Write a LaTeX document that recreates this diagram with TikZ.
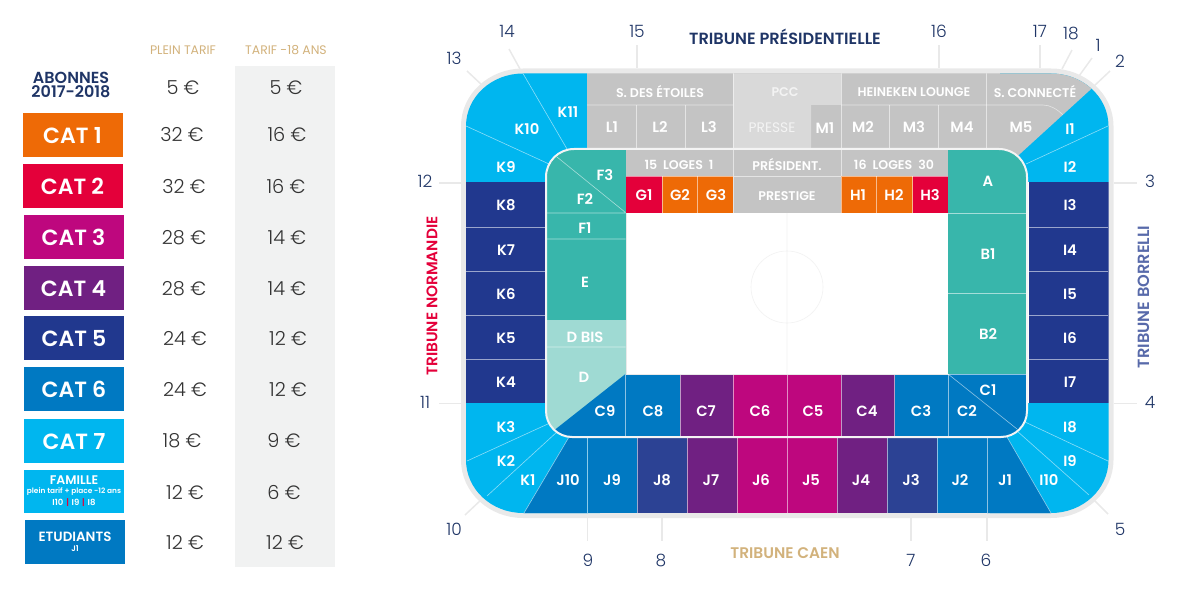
\documentclass[tikz,border=0pt]{standalone}
\usepackage{fontspec}
\setmainfont{Poppins}[BoldFont={Poppins SemiBold}]
\newfontfamily\lightfont{Poppins Light}
\usepackage{tikz}
\definecolor{catorange}{HTML}{EE6A06}
\definecolor{catred}{HTML}{E4003A}
\definecolor{catmagenta}{HTML}{BE077E}
\definecolor{catpurple}{HTML}{702082}
\definecolor{catnavy}{HTML}{21388E}
\definecolor{catblue}{HTML}{0079C2}
\definecolor{catcyan}{HTML}{00B6EF}
\definecolor{zoneteal}{HTML}{38B6AB}
\definecolor{zonepale}{HTML}{9FDAD3}
\definecolor{zonegray}{HTML}{C4C4C4}
\definecolor{zonelight}{HTML}{D9D9D9}
\definecolor{bandgray}{HTML}{E9E9E9}
\definecolor{pricegray}{HTML}{F1F2F2}
\definecolor{inknavy}{HTML}{1F3566}
\definecolor{inktan}{HTML}{D2B27C}
\tikzset{
    seatlab/.style={text=white, font=\bfseries\fontsize{14.8}{14.8}\selectfont},
    roomlab/.style={text=white, font=\bfseries\fontsize{12.6}{12.6}\selectfont},
    catbox/.style={text=white, font=\bfseries\fontsize{22}{22}\selectfont, minimum width=100, minimum height=43.5, inner sep=0, text height=17},
    price/.style={text=black!80, font=\lightfont\fontsize{19.3}{19.3}\selectfont, yshift=-1},
    headlab/.style={text=inktan, font=\fontsize{12.4}{12.4}\selectfont},
    tribune/.style={font=\bfseries\fontsize{16.2}{16.2}\selectfont},
    ticknum/.style={text=inknavy, font=\lightfont\fontsize{17}{17}\selectfont},
    tickline/.style={draw=bandgray, line width=1.5},
    seatline/.style={draw=white, draw opacity=.55, line width=.6},
}
\newcommand{\outerpath}{(466,126) arc (180:270:57 and 52.5) -- (1051,73.5) arc (270:360:57.5 and 52.5) -- (1108.5,460) arc (0:90:57.5 and 53) -- (523,513) arc (90:180:57 and 53) -- cycle}
\newcommand{\bowlpath}{(546,177) arc (180:270:28) -- (999,149) arc (270:360:28) -- (1027,411) arc (0:90:26) -- (572,437) arc (90:180:26) -- cycle}
\begin{document}
\begin{tikzpicture}[x=1pt,y=1pt,yscale=-1]
    \useasboundingbox (0,0) rectangle (1200,591);
    % price list
    \fill[pricegray] (235,66) rectangle (335,567);
    \node[headlab] (headplein) at (183,50) {PLEIN TARIF};
    \node[headlab] (headmoins) at (286,50) {TARIF -18 ANS};
    \node[text=inknavy, font=\bfseries\fontsize{16}{14.5}\selectfont, align=center] (abonnes) at (71,85) {ABONNES\\2017-2018};
    \foreach \n/\col/\x/\y in {1/catorange/72.5/135.2, 2/catred/72.5/186.2, 3/catmagenta/73.5/237, 4/catpurple/73.5/288, 5/catnavy/74/338, 6/catblue/74/389, 7/catcyan/74/441}
        \node[catbox, fill=\col] (cat\n) at (\x,\y) {CAT \n};
    \node[catbox, fill=catcyan] (famille) at (74,491.7) {};
    \node[text=white, inner sep=0, font=\bfseries\fontsize{12.5}{12.5}\selectfont] (famtitle) at (74,480.5) {FAMILLE};
    \node[text=white, inner sep=0, font=\bfseries\fontsize{7.4}{7.4}\selectfont] (famsub) at (74,491.5) {plein tarif + place -12 ans};
    \node[text=white, inner sep=0, font=\bfseries\fontsize{8.5}{8.5}\selectfont] (famseats) at (74,503) {I10\,\,\textcolor{catred}{|}\,\,I9\,\,\textcolor{catred}{|}\,\,I8};
    \node[catbox, fill=catblue] (etudiants) at (74.5,542.2) {};
    \node[text=white, font=\bfseries\fontsize{13.4}{13.4}\selectfont] (etutitle) at (75,537) {ETUDIANTS};
    \node[text=white, font=\bfseries\fontsize{8}{8}\selectfont] (etuseat) at (75,549) {J1};
    \foreach \n/\a/\xa/\b/\xb/\y in {0/5/183/5/286/87, 1/32/182/16/287/134, 2/32/184/16/286/186, 3/28/184/14/287/237, 4/28/184/14/287/288, 5/24/185/12/288/338, 6/24/185/12/288/389, 7/18/182/9/284/440, 8/12/185/6/284/492, 9/12/185/12/285/542} {
        \node[price] (plein\n) at (\xa,\y) {\a~€};
        \node[price] (moins\n) at (\xb,\y) {\b~€};
    }
    % ground, band round the stands
    \draw[bandgray, line width=10] \outerpath;
    \begin{scope}
        \clip \outerpath;
        \fill[catcyan] (460,70) rectangle (587,182);
        \fill[catnavy] (460,182) rectangle (546,403);
        \fill[catcyan] (460,403) rectangle (600,520);
        \fill[catcyan] (1000,70) rectangle (1115,182);
        \fill[catnavy] (1029,182) rectangle (1115,403);
        \fill[catcyan] (990,403) rectangle (1115,520);
        \fill[zonegray] (587,70) -- (1112,70) -- (1010,163) -- (587,163) -- cycle;
        \fill[zonelight] (733,73) rectangle (841,105) (733,105) rectangle (811,148);
        \fill[catblue] (569,437) -- (524,513) -- (587.5,513) -- (587.5,437) -- cycle;
        \foreach \xa/\xb/\col in {587.5/637/catblue, 637/687/catnavy!95!white, 687/737/catpurple, 737/787/catmagenta, 787/837/catmagenta, 837/887/catpurple, 887/937/catnavy!95!white, 937/987/catblue}
            \fill[\col] (\xa,437) rectangle (\xb,513);
        \fill[catblue] (987,437) -- (1007,437) -- (1051,513) -- (987,513) -- cycle;
        % thin lines between the seats
        \foreach \y in {227,271,315,359.5} {
            \draw[seatline] (466,\y) -- (546,\y);
            \draw[seatline] (1029,\y) -- (1108,\y);
        }
        \draw[seatline] (466,126) -- (549,164) (523,73.5) -- (567,149);
        \draw[seatline] (1108,126) -- (1026,164);
        \draw[seatline] (558,431) -- (487,496) (550,423) -- (467,461);
        \draw[seatline] (1017,431) -- (1089,495) (1025,422) -- (1108,461);
        \draw[seatline] (569,437) -- (524,513) (1007,437) -- (1051,513);
        \foreach \x in {587.5,637,687,737,787,837,887,937,987}
            \draw[seatline] (\x,437) -- (\x,513);
        \draw[seatline] (587,105) -- (733,105) (841,105) -- (1043,105) .. controls (1050,105) and (1057,109) .. (1063,115);
        \foreach \x in {636,685,733,841,889.5,938,986.7}
            \draw[seatline] (\x,105) -- (\x,148);
        \draw[seatline] (733,73) -- (733,105) (841,73) -- (841,105) (986.7,73) -- (986.7,105);
    \end{scope}
    % bowl inside the stands
    \fill[white] \bowlpath;
    \begin{scope}
        \clip \bowlpath;
        \fill[zoneteal] (546,149) rectangle (625.5,320);
        \fill[zonepale] (546,320) rectangle (625.5,437);
        \fill[catblue] (625.5,374) -- (552,432) -- (552,437) -- (680,437) -- (680,374) -- cycle;
        \fill[catpurple] (680,374) rectangle (733,437);
        \fill[catmagenta] (733,374) rectangle (841,437);
        \fill[catpurple] (841,374) rectangle (894.5,437);
        \fill[catblue] (894.5,374) rectangle (1027,437);
        \fill[zoneteal] (948,149) rectangle (1027,374);
        \fill[zonegray] (625.5,149) rectangle (948,212.5);
        \fill[catred] (626,176) rectangle (662,212.5);
        \fill[catorange] (662,176) rectangle (733,212.5);
        \fill[catorange] (841,176) rectangle (912.7,212.5);
        \fill[catred] (912.7,176) rectangle (948,212.5);
        \draw[seatline] (557,157) -- (625.5,212.5) (546,213) -- (625.5,213) (546,239) -- (625.5,239) (546,347) -- (625.5,347);
        \draw[seatline] (948,213) -- (1027,213) (948,293) -- (1027,293);
        \draw[seatline] (948,374) -- (1017,429);
        \draw[seatline] (625.5,176) -- (948,176) (733,149) -- (733,212.5) (841,149) -- (841,212.5);
        \foreach \x in {662,697,876,912.7}
            \draw[seatline] (\x,176) -- (\x,212.5);
        \foreach \x in {625.5,680,733,787,841,894.5,948}
            \draw[seatline] (\x,374) -- (\x,437);
        \draw[seatline] (948,374) -- (1027,374);
    \end{scope}
    \draw[bandgray!50!white, line width=2] \bowlpath;
    % pitch
    \fill[white] (626,213) rectangle (948,374);
    \draw[bandgray, line width=1] (626,213) -- (626,374) -- (948,374);
    \draw[black!5, line width=.6] (787,213) -- (787,374) (787,287) circle (36);
    % ticks, from the stands outwards
    \foreach \n/\xa/\ya/\xb/\yb/\lx/\ly in {1/1092/58/1079/76/1098/45, 2/1110/71/1093/87/1120/61, 3/1137/183/1114/183/1150/181, 4/1137/403.5/1114/403.5/1150/402, 5/1108/514/1093/499/1120/529, 6/987/541/987/518/986/560, 7/911/541/911/518/911/560, 8/662/541/662/518/661/560, 9/587.5/541/587.5/518/588/560, 10/465/515/482/499/454/529, 11/439/403.5/461/403.5/425/402, 12/439/183/461/183/425/181, 13/467/71/483/86/454/58, 14/509/49/520/69/507/31, 15/637/45/637/68/637/31, 16/939/45/939/68/939/31, 17/1040/45/1040/68/1040/31, 18/1072/50/1062/69/1071/34} {
        \coordinate (tick\n a) at (\xa,\ya);
        \coordinate (tick\n b) at (\xb,\yb);
        \draw[tickline] (tick\n a) -- (tick\n b);
        \node[ticknum] (num\n) at (\lx,\ly) {\n};
    }
    % seat names
    \foreach \n/\x/\y in {K11/568/112, K10/527/129, K9/506/167, K8/506/205, K7/506/250, K6/506/294, K5/506/338, K4/506/382, K3/506/427, K2/506/461, K1/528/480, L1/612/127, L2/660/127, L3/709/127, M1/825/128, M2/863/127, M3/914/127, M4/962/127, M5/1021/127, I1/1070/129, I2/1070/167, I3/1070/205, I4/1070/250, I5/1070/294, I6/1070/338, I7/1070/382, I8/1070/427, I9/1070/461, I10/1049/480, G1/644/195, G2/680/195, G3/716/195, H1/858/195, H2/894/195, H3/930/195, F3/605/175, F2/585/199, F1/585/228, E/585/282, D/584/377, A/988/181, B1/988/254, B2/988/334, C1/988/390, C2/967/411, C3/921/411, C4/867/411, C5/813/411, C6/760/411, C7/706/411, C8/653/411, C9/605/411, J10/568/480, J9/612/480, J8/662/480, J7/711/480, J6/761/480, J5/811/480, J4/861/480, J3/911/480, J2/960/480, J1/1005/480}
        \node[seatlab] (seat\n) at (\x,\y) {\n};
    \node[seatlab] (seatDbis) at (585,337) {D BIS};
    % rooms
    \node[roomlab] (etoiles) at (660,92) {S. DES ÉTOILES};
    \node[roomlab, text opacity=.7] (pcc) at (785,92) {PCC};
    \node[roomlab, text opacity=.7, font=\fontsize{13.8}{13.8}\selectfont] (presse) at (772,128) {PRESSE};
    \node[roomlab] (heineken) at (914,92) {HEINEKEN LOUNGE};
    \node[roomlab] (connecte) at (1035,92) {S. CONNECTÉ};
    \node[roomlab] (logesg) at (679,165) {15\ \ LOGES\ \ 1};
    \node[roomlab] (president) at (787,165) {PRÉSIDENT.};
    \node[roomlab] (logesh) at (894,165) {16\ \ LOGES\ \ 30};
    \node[roomlab] (prestige) at (787,196) {PRESTIGE};
    % stand names
    \node[tribune, text=inknavy] (presidentielle) at (785,37) {TRIBUNE PRÉSIDENTIELLE};
    \node[tribune, text=inktan, font=\bfseries\fontsize{15.4}{15.4}\selectfont] (caen) at (785,553) {TRIBUNE CAEN};
    \node[tribune, text=catred, font=\bfseries\fontsize{15.3}{15.3}\selectfont, rotate=90] (normandie) at (432,296) {TRIBUNE NORMANDIE};
    \node[tribune, text=catnavy!75!white, rotate=90] (borrelli) at (1144,297) {TRIBUNE BORRELLI};
\end{tikzpicture}
\end{document}
